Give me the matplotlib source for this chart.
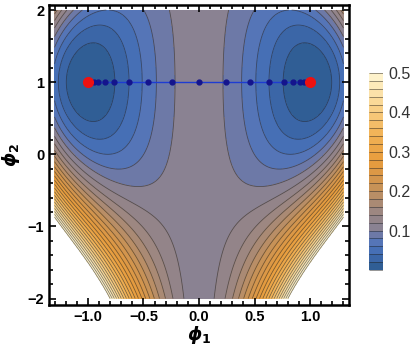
import numpy as np
import matplotlib
matplotlib.use("Agg")
import matplotlib.pyplot as plt
from matplotlib.colors import LinearSegmentedColormap, Normalize
from matplotlib.ticker import MultipleLocator

# beads along the path between the two minima
bead_phi1 = [-1.0, -0.946, -0.906, -0.848, -0.762, -0.634, -0.461, -0.244, 0.0,
             0.244, 0.461, 0.634, 0.762, 0.848, 0.906, 0.943, 1.0]
bead_phi2 = [1.0] * len(bead_phi1)

# the two minima
min_phi1 = [-1.0, 1.0]
min_phi2 = [1.0, 1.0]

# potential parameters
lam = 0.11
g2 = 0.07
g4 = 0.0016

# contour levels / colour bar
levels = np.arange(0.0, 0.5001, 0.02)
cbar_ticks = [0.1, 0.2, 0.3, 0.4, 0.5]
xticks = [-1.0, -0.5, 0.0, 0.5, 1.0]
yticks = [-2, -1, 0, 1, 2]

cmap = LinearSegmentedColormap.from_list("mma", [
    (0.00, "#2b5a8c"),
    (0.06, "#3b66a8"),
    (0.12, "#4c74bc"),
    (0.17, "#6677ad"),
    (0.22, "#8a8292"),
    (0.32, "#a2887c"),
    (0.44, "#cf9450"),
    (0.56, "#e89c3c"),
    (0.70, "#f2b458"),
    (0.84, "#f9d48e"),
    (1.00, "#fff6d4"),
])

plt.rcParams['mathtext.fontset'] = 'custom'
plt.rcParams['mathtext.it'] = 'DejaVu Sans:italic:bold'
plt.rcParams['mathtext.rm'] = 'DejaVu Sans:bold'
plt.rcParams['font.family'] = 'Liberation Sans'

p1 = np.linspace(-1.3, 1.3, 400)
p2 = np.linspace(-2.0, 2.0, 400)
P1, P2 = np.meshgrid(p1, p2)
d = P2 - 1
V = lam * (P1**2 - 1)**2 + P1**2 * (g2 * d**2 + g4 * d**4)

fig = plt.figure(figsize=(4.15, 3.52), dpi=100)
ax = fig.add_axes([49/415, 47/352, 300/415, 300/352])
norm = Normalize(0, 0.5)
cf = ax.contourf(P1, P2, V, levels=levels, cmap=cmap, norm=norm)
cs = ax.contour(P1, P2, V, levels=levels, colors='#202020', linewidths=0.6, alpha=0.55)

ax.plot(bead_phi1, bead_phi2, color='#1e3cd2', lw=1.0, zorder=3)
ax.plot(bead_phi1, bead_phi2, 'o', color='#14148c', ms=3.5, zorder=4)
ax.plot(min_phi1, min_phi2, 'o', color='#ee1111', ms=7, zorder=5)

ax.set_xlim(-1.35, 1.35)
ax.set_ylim(-2.09, 2.07)
ax.set_xticks(xticks)
ax.set_yticks(yticks)
ax.set_xticklabels(['\u22121.0', '\u22120.5', '0.0', '0.5', '1.0'], fontweight='bold', fontsize=10.5)
ax.set_yticklabels(['\u22122', '\u22121', '0', '1', '2'], fontweight='bold', fontsize=10.5)
ax.xaxis.set_minor_locator(MultipleLocator(0.1))
ax.yaxis.set_minor_locator(MultipleLocator(0.2))
ax.tick_params(which='both', direction='in', top=True, right=True, width=1.2)
ax.tick_params(which='major', length=5)
ax.tick_params(which='minor', length=3)
for s in ax.spines.values():
    s.set_linewidth(1.8)

ax.set_xlabel(r'$\phi_1$', fontsize=13, labelpad=0)
ax.set_ylabel(r'$\phi_2$', fontsize=13, labelpad=4)

cax = fig.add_axes([369/415, 82/352, 14/415, 197/352])
cb = fig.colorbar(cf, cax=cax)
cb.add_lines(cs)
cb.outline.set_visible(False)
cb.set_ticks(cbar_ticks)
cb.ax.tick_params(length=0, labelsize=11.5, labelcolor='#333333', pad=4)

fig.savefig("out.png", dpi=100)
